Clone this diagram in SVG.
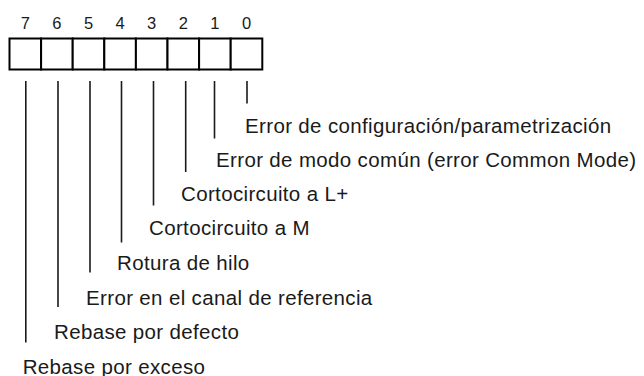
<svg xmlns="http://www.w3.org/2000/svg" width="644" height="376" viewBox="0 0 644 376">
<style>
.cell{fill:#fff;stroke:#000;stroke-width:2}
.num{font-family:"Liberation Sans",Arial,sans-serif;font-size:16.5px;fill:#1a1a1a;text-anchor:middle}
.lbl{font-family:"Liberation Sans",Arial,sans-serif;font-size:20.5px;fill:#1a1a1a;letter-spacing:0.35px}
.ln{stroke:#1a1a1a;stroke-width:1.6;fill:none}
</style>
<rect width="644" height="376" fill="#fff"/>
<g id="register">
<rect class="cell" x="9.5" y="38.5" width="31.6" height="31"/>
<rect class="cell" x="41.1" y="38.5" width="31.6" height="31"/>
<rect class="cell" x="72.7" y="38.5" width="31.6" height="31"/>
<rect class="cell" x="104.3" y="38.5" width="31.6" height="31"/>
<rect class="cell" x="135.9" y="38.5" width="31.6" height="31"/>
<rect class="cell" x="167.5" y="38.5" width="31.6" height="31"/>
<rect class="cell" x="199.1" y="38.5" width="31.6" height="31"/>
<rect class="cell" x="230.7" y="38.5" width="31.6" height="31"/>
<text class="num" x="25.3" y="28.5">7</text>
<text class="num" x="56.9" y="28.5">6</text>
<text class="num" x="88.5" y="28.5">5</text>
<text class="num" x="120.1" y="28.5">4</text>
<text class="num" x="151.7" y="28.5">3</text>
<text class="num" x="183.3" y="28.5">2</text>
<text class="num" x="214.9" y="28.5">1</text>
<text class="num" x="246.5" y="28.5">0</text>
</g>
<g id="connectors">
<line class="ln" x1="247" y1="81" x2="247" y2="103.5"/>
<line class="ln" x1="214.5" y1="81" x2="214.5" y2="138.5"/>
<line class="ln" x1="185.7" y1="81" x2="185.7" y2="172"/>
<line class="ln" x1="153.5" y1="81" x2="153.5" y2="205.5"/>
<line class="ln" x1="121.5" y1="81" x2="121.5" y2="242.5"/>
<line class="ln" x1="90" y1="81" x2="90" y2="272.5"/>
<line class="ln" x1="58" y1="81" x2="58" y2="307"/>
<line class="ln" x1="25.8" y1="81" x2="25.8" y2="342.5"/>
</g>
<g id="bit0"><text class="lbl" x="245" y="132.5">Error de configuración/parametrización</text></g>
<g id="bit1"><text class="lbl" x="216" y="166.5">Error de modo común (error Common Mode)</text></g>
<g id="bit2"><text class="lbl" x="181" y="200.5">Cortocircuito a L+</text></g>
<g id="bit3"><text class="lbl" x="149" y="235">Cortocircuito a M</text></g>
<g id="bit4"><text class="lbl" x="117" y="270">Rotura de hilo</text></g>
<g id="bit5"><text class="lbl" x="86" y="305">Error en el canal de referencia</text></g>
<g id="bit6"><text class="lbl" x="54" y="338.5">Rebase por defecto</text></g>
<g id="bit7"><text class="lbl" x="22.7" y="373.5">Rebase por exceso</text></g>
</svg>
